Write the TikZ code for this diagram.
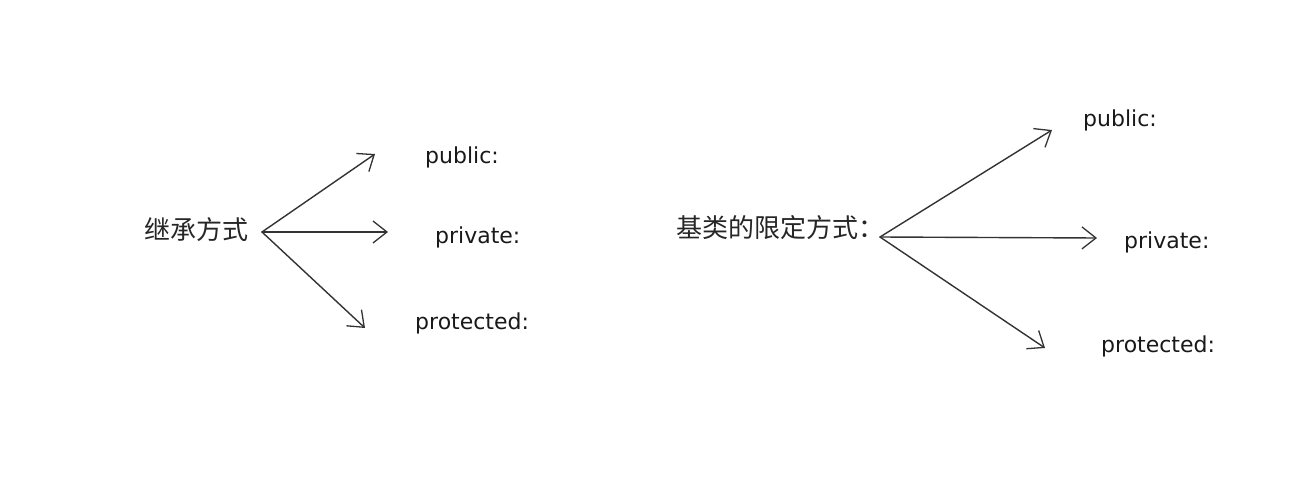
\documentclass[tikz,border=0pt]{standalone}
\usepackage{fontspec}
\usetikzlibrary{arrows.meta}
\newfontfamily\cjk{Noto Sans CJK SC}
\newfontfamily\hand{DejaVu Sans}
\begin{document}
\begin{tikzpicture}[x=1pt,y=-1pt,
  cn/.style={font=\cjk\fontsize{26}{30}\selectfont, inner sep=0pt, anchor=west, text=black!85},
  lbl/.style={font=\hand\fontsize{22}{26}\selectfont, inner sep=0pt, anchor=west, text=black!90},
  arr/.style={draw=black!80, line width=1.4pt, line cap=round, -{Straight Barb[length=14pt,width=22pt,line width=1.3pt]}}]
\useasboundingbox (0,0) rectangle (1311,500);
% left group
\node[cn] (inh) at (144,230) {继承方式};
\coordinate (o1) at (262,232);
\coordinate (e1a) at (375,154);
\coordinate (e1b) at (388,232);
\coordinate (e1c) at (365,328);
\draw[arr] (o1) -- (e1a);
\draw[arr] (o1) -- (e1b);
\draw[arr] (o1) -- (e1c);
\node[lbl] (pub1) at (425,157) {public:};
\node[lbl] (pri1) at (435,237) {private:};
\node[lbl] (pro1) at (415,323) {protected:};
% right group
\node[cn] (base) at (676,228) {基类的限定方式：};
\coordinate (o2) at (880,237);
\coordinate (e2a) at (1052,130);
\coordinate (e2b) at (1097,238);
\coordinate (e2c) at (1045,348);
\draw[arr] (o2) -- (e2a);
\draw[arr] (o2) -- (e2b);
\draw[arr] (o2) -- (e2c);
\node[lbl] (pub2) at (1083,120) {public:};
\node[lbl] (pri2) at (1124,242) {private:};
\node[lbl] (pro2) at (1101,346) {protected:};
\end{tikzpicture}
\end{document}
